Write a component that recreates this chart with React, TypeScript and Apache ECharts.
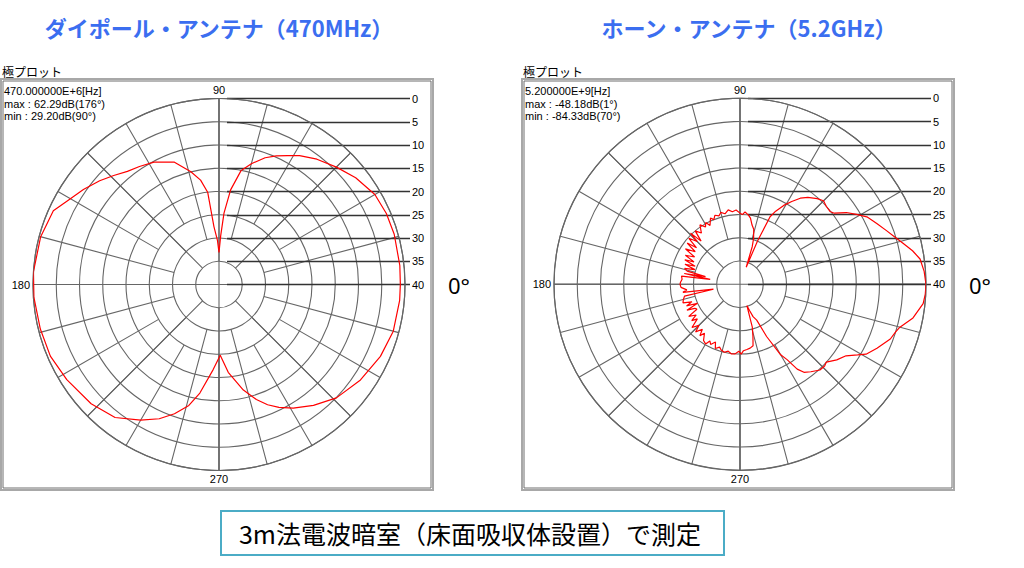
import { useEffect, useRef } from 'react'
import * as echarts from 'echarts'

// 角度[deg] と 最大値からの落ち込み[dB]（0 = 外周, 40 = 中心）
const dipoleAngles = [
  0, 6, 16, 23, 30, 38, 45, 52, 58, 62, 66, 70, 75, 79, 83, 86, 88, 90,
  92, 95, 97, 100, 104, 110, 118, 124, 129, 134, 139, 145, 150, 156, 165, 176,
  184, 194, 203, 212, 223, 232, 240, 246, 251, 256, 260, 266, 271,
  276, 283, 288, 292, 296, 301, 308, 316, 326, 336, 345, 355, 360
]
const dipoleLevels = [
  1.0, 0.9, 0.8, 0.9, 1.3, 2.7, 4.3, 5.8, 7.3, 8.6, 9.7, 11.0, 13.1, 15.0, 19.5, 24.6, 29.5, 33.1,
  30.5, 27.5, 20.0, 17.2, 15.0, 12.0, 10.2, 9.4, 8.7, 7.4, 6.0, 4.4, 3.1, 1.0, 0.3, 0.0,
  0.1, 0.4, 0.6, 1.4, 2.4, 3.7, 6.3, 8.4, 10.6, 13.2, 16.3, 21.6, 24.8,
  21.0, 16.7, 14.0, 12.1, 10.6, 9.0, 7.0, 4.9, 3.3, 2.0, 1.2, 1.0, 1.0
]

const hornAngles = [
  0, 4, 8, 11, 14, 17, 20, 24, 28, 31, 34, 37, 39, 42, 45, 48, 52, 55, 58, 61, 64, 66, 68, 70,
  72, 73.5, 76, 78.5, 81, 83, 86, 88, 90, 93, 96, 99, 102, 105, 107, 110, 112, 114, 117, 119,
  121, 124, 127, 130, 132, 134, 135, 138, 140, 142, 144, 147, 149, 152, 154, 156, 158, 160,
  162, 164, 166, 167.5, 169, 170.5, 172, 175, 178, 180, 183, 186, 188, 190.5, 192, 195, 198,
  200, 202, 204, 206, 208, 210, 212, 215, 217, 219, 222, 225, 227, 230, 232, 234, 237, 240,
  242, 244, 247, 249, 252, 254, 257, 260, 263, 266, 269, 271, 273, 276, 279, 282, 284, 286,
  288, 290, 292, 295, 297, 300, 302, 304, 306, 309, 313, 316, 318, 322, 326, 329, 331, 335,
  340, 343, 345, 349, 354, 357, 360
]
const hornLevels = [
  0.0, 0.3, 0.9, 2.2, 3.8, 5.2, 6.4, 7.8, 9.1, 10.8, 12.4, 14.6, 15.1, 15.0, 14.6, 15.2, 16.3, 17.4, 19.0, 20.6, 22.5, 24.1, 30.0, 36.1,
  31.5, 29.7, 27.8, 27.0, 25.6, 25.0, 24.4, 25.0, 24.7, 24.0, 24.3, 23.8, 24.5, 24.0, 24.6, 24.2, 25.0, 24.4, 25.8, 24.8,
  25.6, 24.6, 26.2, 25.0, 27.5, 24.7, 27.0, 25.2, 27.8, 25.6, 28.1, 26.0, 28.6, 26.7, 29.0, 27.0, 29.6, 27.4,
  29.8, 27.6, 28.3, 32.4, 27.8, 33.5, 27.3, 27.5, 27.2, 27.1, 27.3, 28.5, 27.6, 34.2, 27.8, 27.4, 27.1,
  29.0, 27.6, 30.0, 27.3, 29.0, 29.3, 27.0, 28.5, 27.0, 28.2, 26.1, 27.5, 26.0, 27.4, 26.0, 27.0, 25.6, 25.2,
  26.2, 25.6, 26.5, 25.2, 25.8, 25.3, 25.0, 25.4, 24.9, 25.0, 25.6, 25.0, 25.7, 25.9, 26.1, 26.5, 28.5, 30.4,
  35.2, 34.0, 32.5, 31.5, 27.4, 22.5, 20.9, 18.0, 16.6, 15.8, 14.8, 14.7, 15.0, 13.6, 12.5, 10.5, 9.0, 7.5,
  5.6, 5.0, 4.4, 2.1, 0.4, 0.1, 0.0
]

const angleLabels = [90, 180, 270]
const titles = ['ダイポール・アンテナ（470MHz）', 'ホーン・アンテナ（5.2GHz）']
const dipoleInfo = ['470.000000E+6[Hz]', 'max : 62.29dB(176°)', 'min : 29.20dB(90°)']
const hornInfo = ['5.200000E+9[Hz]', 'max : -48.18dB(1°)', 'min : -84.33dB(70°)']
const caption = '3m法電波暗室（床面吸収体設置）で測定'

const FONT = '"Liberation Sans", Arial, sans-serif'
const JP = '"Noto Sans CJK JP", "Noto Sans", sans-serif'
const GRID = '#666666'
const R = 186
const STEP = R / 8

// 放射線の始点（中心から何リング目か）と間隔
const spokes = [
  { inner: 0, start: 0, interval: 90 },
  { inner: STEP, start: 0, interval: 45 },
  { inner: 2 * STEP, start: 15, interval: 60 },
  { inner: 2 * STEP, start: 105, interval: 60 },
  { inner: 3 * STEP, start: 0, interval: 30 }
]

const plots = [
  { cx: 219, cy: 284.5, boxX: 1, labelX: 410, title: titles[0], info: dipoleInfo, angles: dipoleAngles, levels: dipoleLevels },
  { cx: 740, cy: 284.3, boxX: 522, labelX: 931, title: titles[1], info: hornInfo, angles: hornAngles, levels: hornLevels }
]

function buildOption() {
  const polar: any[] = []
  const angleAxis: any[] = []
  const radiusAxis: any[] = []
  const grid: any[] = []
  const xAxis: any[] = []
  const yAxis: any[] = []
  const series: any[] = []
  const graphic: any[] = []

  plots.forEach((p, k) => {
    let mainIdx = 0
    spokes.forEach((s, j) => {
      const idx = polar.length
      if (j === 0) mainIdx = idx
      polar.push({ center: [p.cx, p.cy], radius: [s.inner, R] })
      angleAxis.push({
        polarIndex: idx,
        type: 'value',
        min: 0,
        max: 360,
        interval: s.interval,
        startAngle: s.start,
        clockwise: false,
        axisLine: { show: j === 0, lineStyle: { color: GRID, width: 1.2 } },
        axisTick: { show: false },
        axisLabel: j === 0
          ? {
              margin: 3,
              color: '#000',
              fontSize: 11,
              fontFamily: FONT,
              formatter: (v: number) => (angleLabels.includes(v) ? String(v) : '')
            }
          : { show: false },
        splitLine: { show: true, lineStyle: { color: GRID, width: 1.1 } }
      })
      radiusAxis.push({
        polarIndex: idx,
        type: 'value',
        min: 0,
        max: 40,
        interval: 5,
        inverse: true,
        axisLine: { show: false },
        axisTick: { show: false },
        axisLabel: { show: false },
        splitLine: { show: j === 0, lineStyle: { color: GRID, width: 1.1 } }
      })
    })

    // 右側の目盛線とラベル
    grid.push({ left: p.cx + 8, top: p.cy - R, width: p.labelX - p.cx - 8, height: R })
    xAxis.push({ gridIndex: k, type: 'value', min: 0, max: 1, show: false })
    yAxis.push({
      gridIndex: k,
      type: 'value',
      position: 'right',
      min: 0,
      max: 40,
      interval: 5,
      inverse: true,
      axisLine: { show: false },
      axisTick: { show: false },
      axisLabel: { margin: 2, color: '#000', fontSize: 11, fontFamily: FONT },
      splitLine: { show: true, lineStyle: { color: '#333333', width: 1.3 } }
    })

    series.push({
      type: 'line',
      coordinateSystem: 'polar',
      polarIndex: mainIdx,
      data: p.levels.map((v, i) => [v, p.angles[i]]),
      showSymbol: false,
      symbol: 'none',
      silent: true,
      z: 5,
      lineStyle: { color: '#ff0000', width: 1.2 }
    })

    // 枠・テキスト
    graphic.push(
      {
        type: 'rect',
        z: -1,
        shape: { x: p.boxX, y: 79, width: 432, height: 411 },
        style: { fill: '#fff', stroke: '#a8a8a8', lineWidth: 2 }
      },
      {
        type: 'rect',
        z: -1,
        shape: { x: p.boxX + 2, y: 81, width: 428, height: 407 },
        style: { fill: 'none', stroke: '#6f6f6f', lineWidth: 1 }
      },
      {
        type: 'text',
        style: { text: '極プロット', x: p.boxX + 1, y: 71, textVerticalAlign: 'middle', fill: '#000', font: '12px ' + JP }
      },
      {
        type: 'text',
        style: { text: p.title, x: p.cx + (k === 0 ? 0 : 9), y: 27, textAlign: 'center', textVerticalAlign: 'middle', fill: '#3b6ef0', font: 'bold 22px ' + JP }
      },
      {
        type: 'text',
        style: { text: '0°', x: p.boxX + 447, y: 285, textVerticalAlign: 'middle', fill: '#000', font: '22px "Noto Sans", sans-serif' }
      },
      ...p.info.map((t, i) => ({
        type: 'text',
        style: { text: t, x: p.boxX + 3, y: 91 + i * 12.6, textVerticalAlign: 'middle', fill: '#000', font: '11px ' + FONT }
      }))
    )
  })

  graphic.push(
    {
      type: 'rect',
      shape: { x: 221, y: 511, width: 503, height: 44 },
      style: { fill: '#fff', stroke: '#4bacc6', lineWidth: 2 }
    },
    {
      type: 'text',
      style: { text: caption, x: 470, y: 533, textAlign: 'center', textVerticalAlign: 'middle', fill: '#000', font: '25px ' + JP }
    }
  )

  return {
    animation: false,
    backgroundColor: '#fff',
    polar,
    angleAxis,
    radiusAxis,
    grid,
    xAxis,
    yAxis,
    series,
    graphic
  }
}

export default function App() {
  const chartRef = useRef<HTMLDivElement>(null)

  useEffect(() => {
    if (!chartRef.current) return
    const chart = echarts.init(chartRef.current, undefined, { renderer: 'svg' })
    chart.setOption(buildOption())
    return () => chart.dispose()
  }, [])

  return (
    <div
      ref={chartRef}
      style={{ position: 'fixed', left: 0, top: 0, width: 1024, height: 568, background: '#fff' }}
    />
  )
}
